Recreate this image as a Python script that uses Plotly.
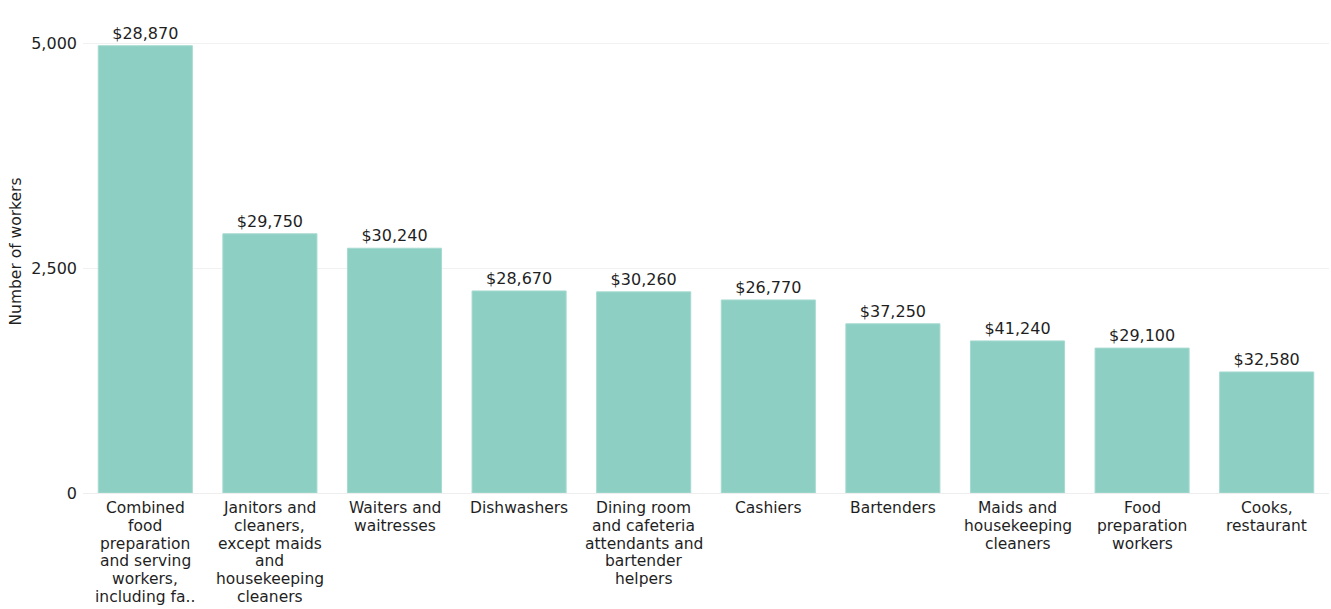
import plotly.graph_objects as go

# Occupations, worker counts and median annual wage labels
occupations = [
    "Combined\nfood\npreparation\nand serving\nworkers,\nincluding fa..",
    "Janitors and\ncleaners,\nexcept maids\nand\nhousekeeping\ncleaners",
    "Waiters and\nwaitresses",
    "Dishwashers",
    "Dining room\nand cafeteria\nattendants and\nbartender\nhelpers",
    "Cashiers",
    "Bartenders",
    "Maids and\nhousekeeping\ncleaners",
    "Food\npreparation\nworkers",
    "Cooks,\nrestaurant",
]
workers = [4970, 2880, 2720, 2245, 2235, 2145, 1880, 1690, 1610, 1345]
wages = ["$28,870", "$29,750", "$30,240", "$28,670", "$30,260",
         "$26,770", "$37,250", "$41,240", "$29,100", "$32,580"]
y_ticks = [0, 2500, 5000]
y_tick_text = ["0", "2,500", "5,000"]

FONT = "'DejaVu Sans', Verdana, sans-serif"
INK = "#1f1f1f"
LINE_STEP = 17.8  # px between wrapped category label lines

categories = [name.replace("\n", " ") for name in occupations]

fig = go.Figure(
    go.Bar(
        x=categories,
        y=workers,
        text=wages,
        textposition="outside",
        textfont=dict(size=16, color=INK, family=FONT),
        cliponaxis=False,
        marker=dict(color="#8DCFC3", line=dict(color="#A6DAD0", width=1)),
        hovertemplate="%{x}<br>%{y:,}<extra></extra>",
    )
)

# Category labels below the axis, one annotation per wrapped line for tight leading
for cat, name in zip(categories, occupations):
    for i, line in enumerate(name.split("\n")):
        fig.add_annotation(
            x=cat, y=0, xref="x", yref="y",
            text=line, showarrow=False,
            xanchor="center", yanchor="middle",
            yshift=-(15 + i * LINE_STEP),
            font=dict(size=15.5, color=INK, family=FONT),
        )

fig.update_layout(
    width=1331,
    height=609,
    margin=dict(l=83, r=2, t=10, b=116),
    plot_bgcolor="white",
    paper_bgcolor="white",
    bargap=0.245,
    showlegend=False,
    font=dict(family=FONT, size=15, color=INK),
    xaxis=dict(
        showgrid=False,
        showline=True,
        linecolor="#eeeeee",
        linewidth=1,
        showticklabels=False,
        ticks="",
        automargin=False,
    ),
    yaxis=dict(
        range=[0, 5367],
        tickvals=y_ticks,
        ticktext=y_tick_text,
        showgrid=True,
        gridcolor="#f1f1f1",
        gridwidth=1,
        zeroline=False,
        ticks="",
        ticklabelstandoff=5,
        tickfont=dict(size=16, color=INK, family=FONT),
        title=dict(text="Number of workers",
                   font=dict(size=15.5, color=INK, family=FONT), standoff=5),
        automargin=False,
    ),
)

fig.write_html("out.html")
